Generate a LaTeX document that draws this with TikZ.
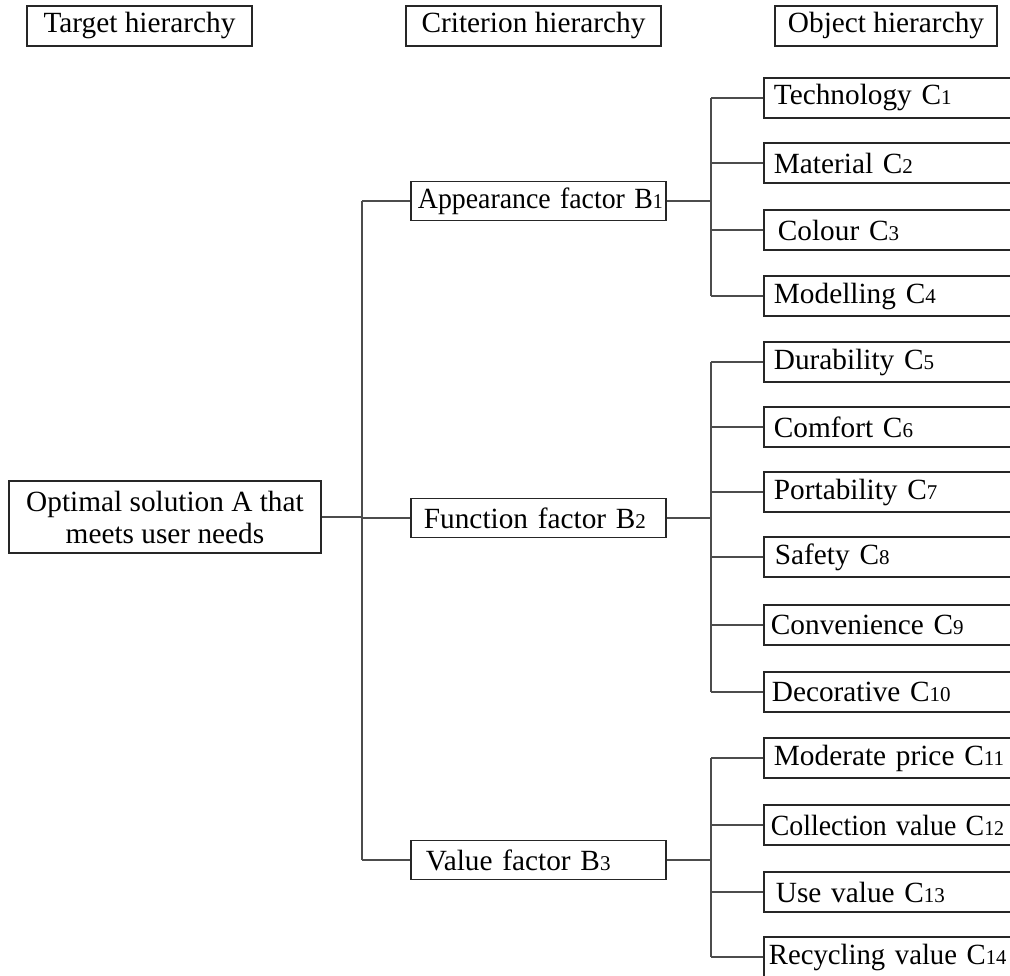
\documentclass[tikz,border=0pt]{standalone}
\usepackage{fontspec}
\usepackage{graphicx}
\setmainfont{Liberation Serif}
\newcommand{\sbn}[1]{{\fontsize{21}{21}\selectfont #1}}
\newcommand{\nowrap}[1]{\makebox[0pt][l]{#1}}
\newcommand{\narrow}[2]{\scalebox{#1}[1]{#2}}
\begin{document}
\begin{tikzpicture}[x=1pt,y=-1pt,
  box/.style={draw=black!85, line width=1.8pt, inner ysep=0pt, font=\fontsize{29.3}{33}\selectfont},
  hdr/.style={box, inner xsep=0pt, minimum height=40pt, align=center},
  bbox/.style={box, anchor=west, inner xsep=6pt, text width=243pt, align=left, minimum height=39pt},
  cbox/.style={box, anchor=west, inner xsep=10pt, text width=270pt, align=left, minimum height=40pt},
  link/.style={draw=black!70, line width=1.5pt}]
\useasboundingbox (0,0) rectangle (1010,976);
\clip (0,0) rectangle (1010,976);

% headers
\node[hdr, minimum width=225pt] (h1) at (139.5,26) {Target hierarchy};
\node[hdr, minimum width=255pt] (h2) at (533.5,26) {Criterion hierarchy};
\node[hdr, minimum width=222pt] (h3) at (886,26) {Object hierarchy};

% target
\node[box, inner xsep=0pt, minimum width=312pt, minimum height=72pt, align=center] (A) at (165,517)
  {Optimal solution A that\\[-1pt]meets user needs};

% criteria
\node[bbox] (B1) at (410,201) {\nowrap{\hspace{1pt}\narrow{0.95}{Appearance factor B\sbn{1}}}};
\node[bbox] (B2) at (410,518) {\nowrap{\hspace{7pt}Function factor B\sbn{2}}};
\node[bbox] (B3) at (410,860) {\nowrap{\hspace{9pt}Value factor B\sbn{3}}};

% objects
\node[cbox] (C1) at (763,98) {Technology C\sbn{1}};
\node[cbox] (C2) at (763,163) {Material C\sbn{2}};
\node[cbox] (C3) at (763,230) {\hspace{4pt}Colour C\sbn{3}};
\node[cbox] (C4) at (763,296) {Modelling C\sbn{4}};
\node[cbox] (C5) at (763,362) {Durability C\sbn{5}};
\node[cbox] (C6) at (763,427) {Comfort C\sbn{6}};
\node[cbox] (C7) at (763,492) {Portability C\sbn{7}};
\node[cbox] (C8) at (763,557) {\hspace{1pt}Safety C\sbn{8}};
\node[cbox] (C9) at (763,625) {\hspace{-3pt}Convenience C\sbn{9}};
\node[cbox] (C10) at (763,692) {\hspace{-2pt}Decorative C\sbn{10}};
\node[cbox] (C11) at (763,758) {Moderate price C\sbn{11}};
\node[cbox] (C12) at (763,825) {\hspace{-3pt}\narrow{0.95}{Collection value C\sbn{12}}};
\node[cbox] (C13) at (763,892) {\hspace{2pt}Use value C\sbn{13}};
\node[cbox] (C14) at (763,957) {\hspace{-5pt}\narrow{0.98}{Recycling value C\sbn{14}}};

% bus coordinates
\coordinate (busL) at (362,0);
\coordinate (busR) at (711,0);

% A to B
\draw[link] (A.east) -- (A.east -| busL);
\draw[link] (B1.west -| busL) -- (B3.west -| busL);
\foreach \b in {B1,B2,B3} \draw[link] (\b.west -| busL) -- (\b.west);

% B to C
\draw[link] (B1.east) -- (B1.east -| busR);
\draw[link] (C1.west -| busR) -- (C4.west -| busR);
\foreach \c in {C1,C2,C3,C4} \draw[link] (\c.west -| busR) -- (\c.west);

\draw[link] (B2.east) -- (B2.east -| busR);
\draw[link] (C5.west -| busR) -- (C10.west -| busR);
\foreach \c in {C5,C6,C7,C8,C9,C10} \draw[link] (\c.west -| busR) -- (\c.west);

\draw[link] (B3.east) -- (B3.east -| busR);
\draw[link] (C11.west -| busR) -- (C14.west -| busR);
\foreach \c in {C11,C12,C13,C14} \draw[link] (\c.west -| busR) -- (\c.west);
\end{tikzpicture}
\end{document}
